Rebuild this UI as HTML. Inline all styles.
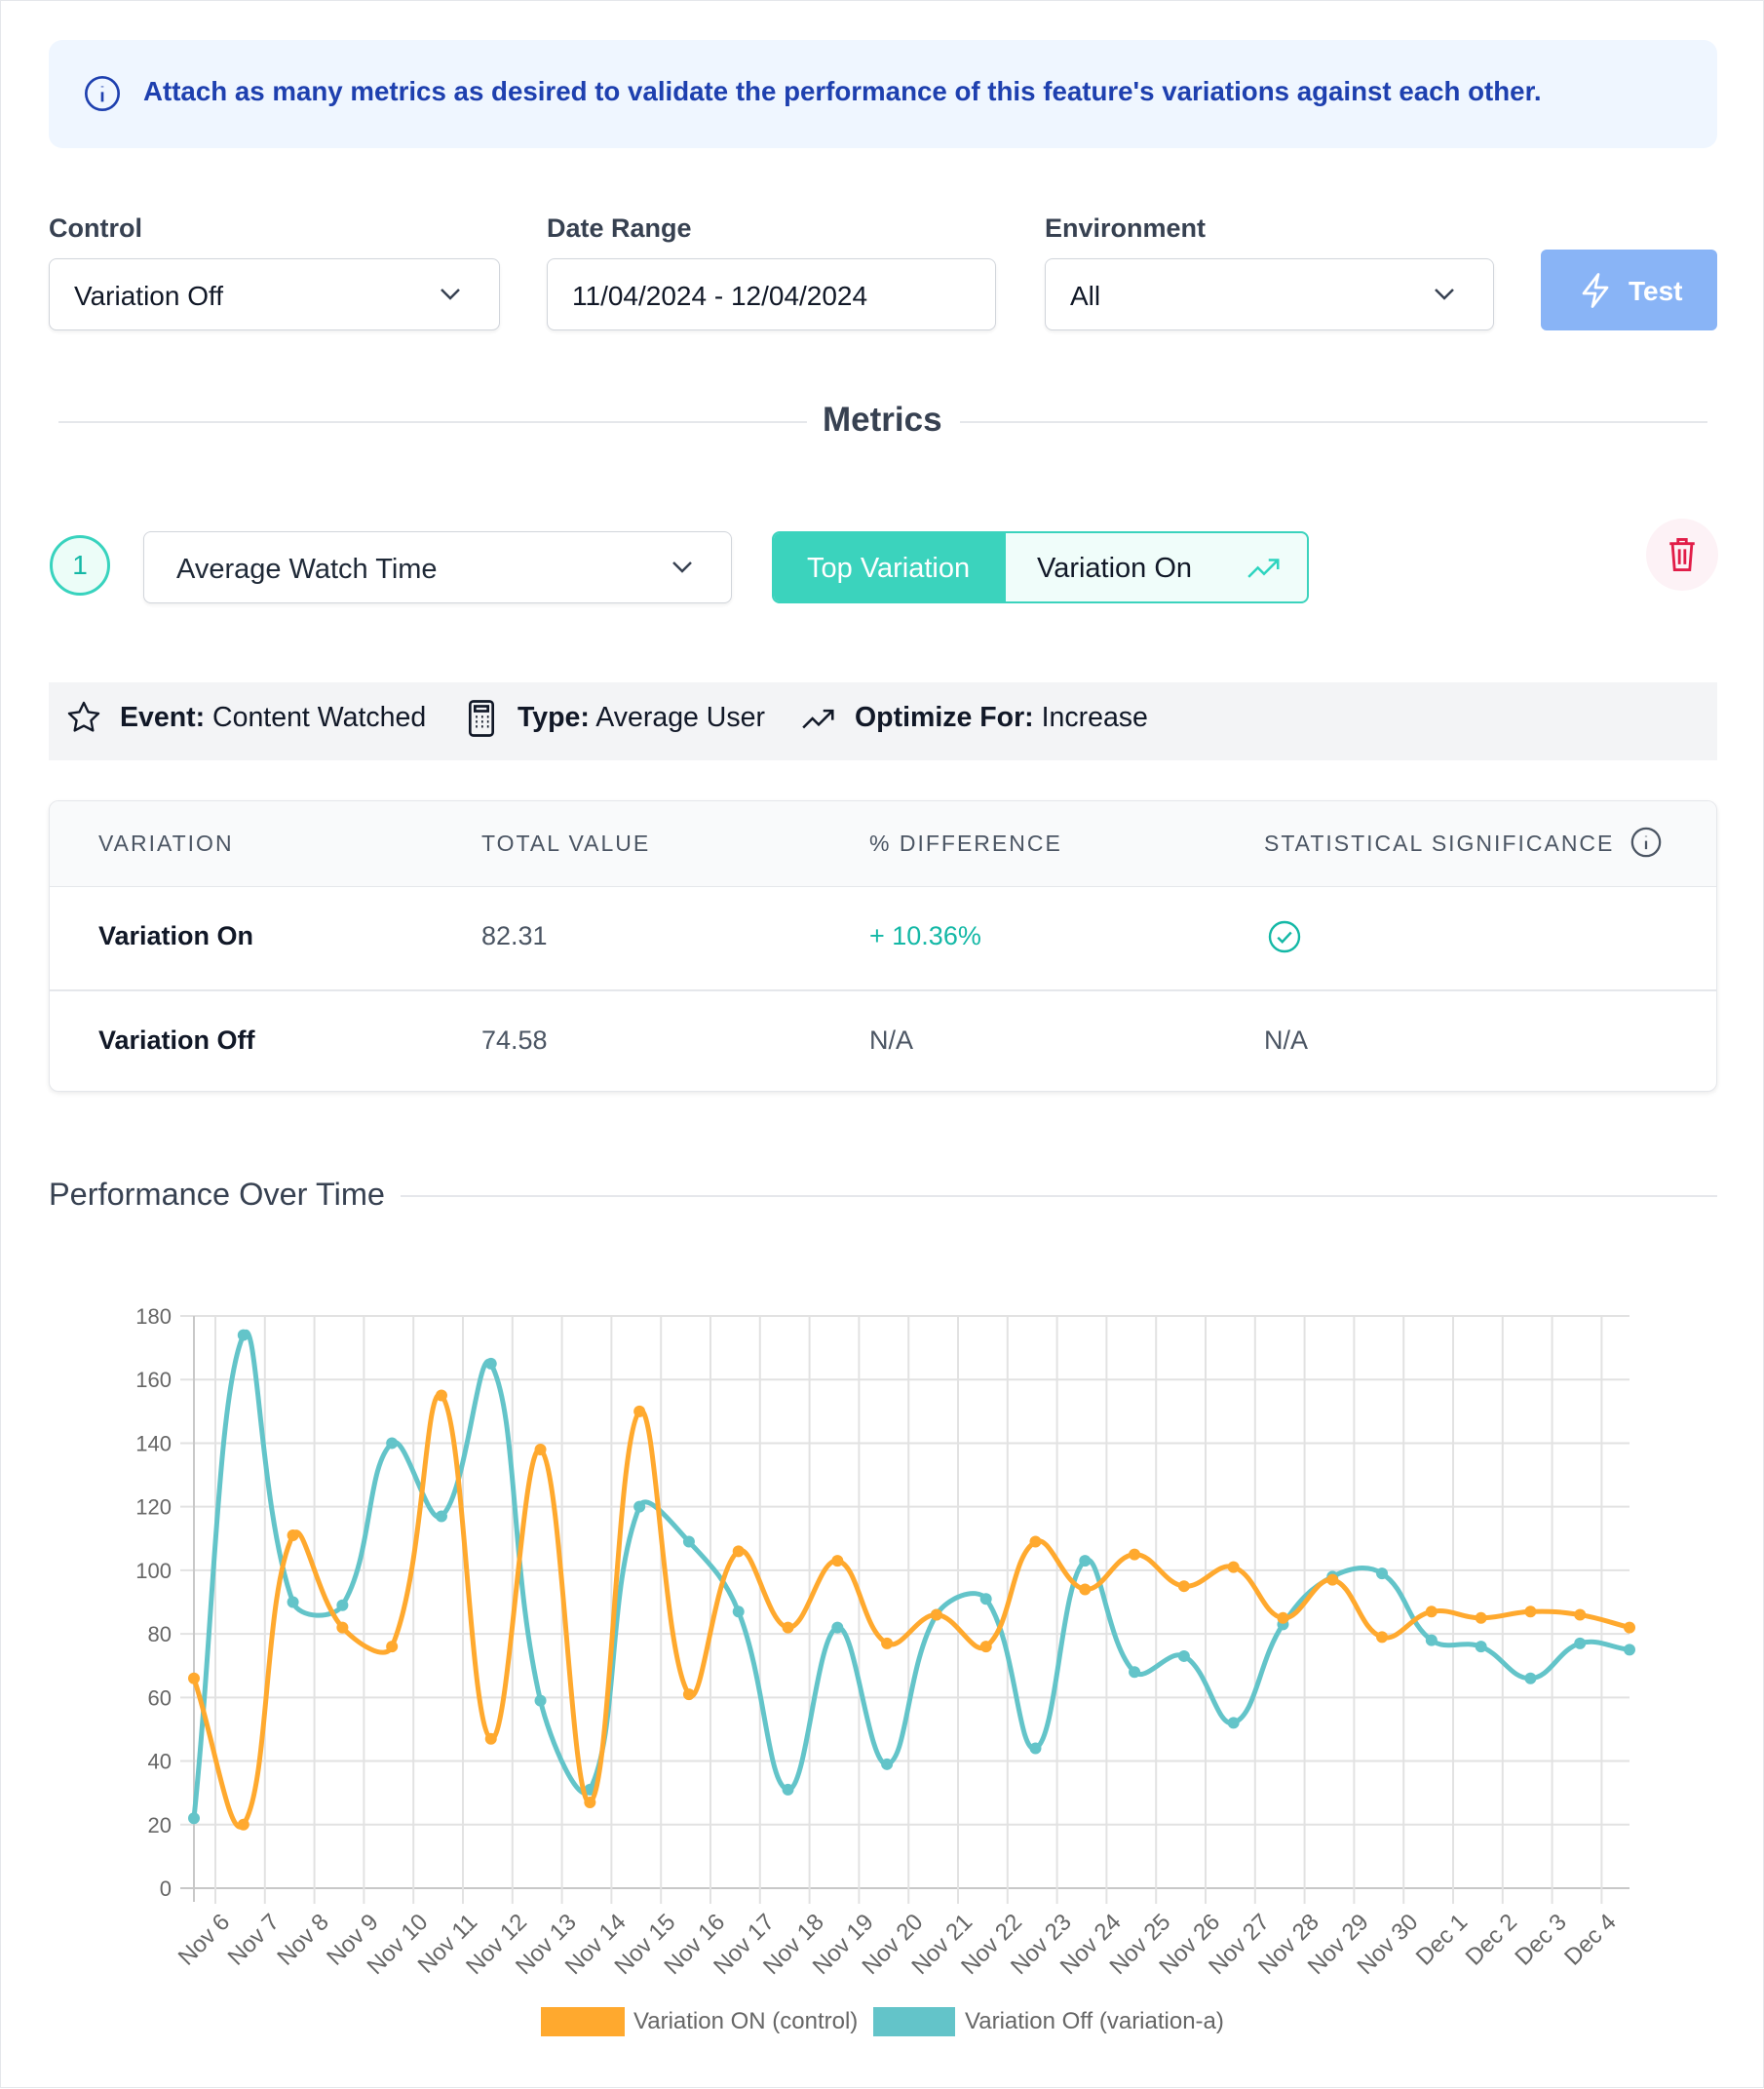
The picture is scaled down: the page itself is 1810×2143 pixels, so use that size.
<!DOCTYPE html>
<html><head><meta charset="utf-8">
<style>
*{box-sizing:border-box;margin:0;padding:0}
body{width:1810px;height:2142px;position:relative;background:#fff;font-family:"Liberation Sans",sans-serif;overflow:hidden;border:1px solid #e5e7eb}
.a{position:absolute}
.banner{left:49px;top:40px;width:1712px;height:111px;background:#eff6ff;border-radius:14px}
.btext{left:146px;top:77px;font-size:27.7px;color:#1e40af;font-weight:bold;white-space:nowrap}
.lbl{font-size:27px;color:#374151;font-weight:bold;top:218px}
.inp{top:264px;height:74px;border:1.5px solid #d1d5db;border-radius:8px;background:#fff;box-shadow:0 2px 3px rgba(0,0,0,0.06);font-size:28px;color:#111827;padding:22px 25px 0;white-space:nowrap}
.chev{position:absolute;right:38px;top:28px}
.btn{left:1580px;top:255px;width:181px;height:83px;background:#89b4f6;border-radius:6px;color:#fff;font-size:28px;font-weight:bold;padding:27px 0 0 90px}
.hl{height:1.5px;background:#e5e7eb}
.bar{left:49px;top:699px;width:1712px;height:80px;background:#f3f4f6}
.bt{top:719px;font-size:28.5px;color:#111827;white-space:nowrap}
.tbl{left:49px;top:820px;width:1712px;height:299px;border:1.5px solid #e5e7eb;border-radius:10px;box-shadow:0 2px 5px rgba(0,0,0,0.08);overflow:hidden;background:#fff}
.th{font-size:23px;color:#4b5563;letter-spacing:2px;top:851px;white-space:nowrap}
.td{font-size:27px;white-space:nowrap}
</style></head><body>
<div class="a banner"></div>
<svg class="a" style="left:84px;top:75px" width="40" height="40" viewBox="0 0 24 24" fill="none" stroke="#1e40af" stroke-width="1.6"><circle cx="12" cy="12" r="10"/><path d="M12 11v6M12 7.5v.5"/></svg>
<div class="a btext">Attach as many metrics as desired to validate the performance of this feature's variations against each other.</div>

<div class="a lbl" style="left:49px">Control</div>
<div class="a lbl" style="left:560px">Date Range</div>
<div class="a lbl" style="left:1071px">Environment</div>
<div class="a inp" style="left:49px;width:463px">Variation Off<svg class="chev" width="24" height="16" viewBox="0 0 24 16"><path d="M3 3l9 9 9-9" fill="none" stroke="#374151" stroke-width="2.5"/></svg></div>
<div class="a inp" style="left:560px;width:461px">11/04/2024 - 12/04/2024</div>
<div class="a inp" style="left:1071px;width:461px">All<svg class="chev" width="24" height="16" viewBox="0 0 24 16"><path d="M3 3l9 9 9-9" fill="none" stroke="#374151" stroke-width="2.5"/></svg></div>
<div class="a btn">Test</div>
<svg class="a" style="left:1618px;top:277px" width="36" height="40" viewBox="0 0 24 26" fill="none" stroke="#fff" stroke-width="1.8" stroke-linejoin="round"><path d="M14 2L4 15h8l-2 9 10-13h-8z"/></svg>

<div class="a hl" style="left:59px;top:431px;width:768px"></div>
<div class="a hl" style="left:984px;top:431px;width:767px"></div>
<div class="a" style="left:843px;top:410px;font-size:35px;color:#374151;font-weight:bold">Metrics</div>

<div class="a" style="left:50px;top:548px;width:62px;height:62px;border-radius:50%;border:3px solid #38d3be;background:#ecfdf8;color:#14b8a6;font-size:28px;text-align:center;line-height:56px">1</div>
<div class="a inp" style="left:146px;top:544px;width:604px;height:74px;padding-left:33px;font-size:29px;color:#1f2937">Average Watch Time<svg class="chev" width="24" height="16" viewBox="0 0 24 16"><path d="M3 3l9 9 9-9" fill="none" stroke="#374151" stroke-width="2.5"/></svg></div>
<div class="a" style="left:791px;top:544px;width:551px;height:74px;border:2px solid #3bd3bd;border-radius:8px;background:#f0fdfa;overflow:hidden">
 <div class="a" style="left:0;top:0;width:238px;height:74px;background:#3bd3bd;color:#fff;font-size:29px;padding:20px 0 0 34px">Top Variation</div>
 <div class="a" style="left:270px;top:20px;font-size:29px;color:#111827">Variation On</div>
 <svg class="a" style="left:484px;top:24px" width="38" height="26" viewBox="0 0 24 16" fill="none" stroke="#2dd4bf" stroke-width="1.6"><path d="M2 13l6-6 4 4 9-9M15 2h6v6"/></svg>
</div>
<div class="a" style="left:1688px;top:531px;width:74px;height:74px;border-radius:50%;background:#fdf2f6"></div>
<svg class="a" style="left:1708px;top:548px" width="34" height="40" viewBox="0 0 24 28" fill="none" stroke="#e11d48" stroke-width="2"><path d="M3 6h18M9 6V3h6v3M5 6l1.5 19h11L19 6M10 10v11M14 10v11"/></svg>

<div class="a bar"></div>
<svg class="a" style="left:66px;top:716px" width="38" height="38" viewBox="0 0 24 24" fill="none" stroke="#111827" stroke-width="1.5" stroke-linejoin="round"><path d="M12 2.5l2.9 6 6.6.9-4.8 4.6 1.2 6.5L12 17.4l-5.9 3.1 1.2-6.5L2.5 9.4l6.6-.9z"/></svg>
<div class="a bt" style="left:122px"><b>Event:</b> Content Watched</div>
<svg class="a" style="left:478px;top:716px" width="30" height="40" viewBox="0 0 18 24" fill="none" stroke="#111827" stroke-width="1.6"><rect x="2" y="1.5" width="14" height="21" rx="2"/><rect x="5" y="4.5" width="8" height="3"/><path d="M5.5 11h1M9 11h1M12.5 11h1M5.5 14h1M9 14h1M12.5 14h1M5.5 17h1M9 17h1M12.5 17h1" stroke-width="1.4"/></svg>
<div class="a bt" style="left:530px"><b>Type:</b> Average User</div>
<svg class="a" style="left:820px;top:722px" width="38" height="28" viewBox="0 0 24 16" fill="none" stroke="#111827" stroke-width="1.6"><path d="M2 14l6-6 4 4 9-9M15 3h6v6"/></svg>
<div class="a bt" style="left:876px"><b>Optimize For:</b> Increase</div>

<div class="a tbl"><div class="a" style="left:0;top:0;width:1712px;height:88px;background:#f9fafb;border-bottom:1.5px solid #e5e7eb"></div><div class="a" style="left:0;top:193px;width:1712px;height:1.5px;background:#e5e7eb"></div></div>
<div class="a th" style="left:100px">VARIATION</div>
<div class="a th" style="left:493px">TOTAL VALUE</div>
<div class="a th" style="left:891px">% DIFFERENCE</div>
<div class="a th" style="left:1296px">STATISTICAL SIGNIFICANCE</div>
<svg class="a" style="left:1671px;top:846px" width="34" height="34" viewBox="0 0 24 24" fill="none" stroke="#4b5563" stroke-width="1.6"><circle cx="12" cy="12" r="10"/><path d="M12 11v6M12 7.5v.5"/></svg>
<div class="a td" style="left:100px;top:944px;font-weight:bold;color:#111827">Variation On</div>
<div class="a td" style="left:493px;top:944px;color:#4b5563">82.31</div>
<div class="a td" style="left:891px;top:944px;color:#14b8a6">+ 10.36%</div>
<svg class="a" style="left:1299px;top:942px" width="36" height="36" viewBox="0 0 24 24" fill="none" stroke="#14b8a6" stroke-width="1.6"><circle cx="12" cy="12" r="10"/><path d="M7.5 12.5l3 3 6-6.5"/></svg>
<div class="a td" style="left:100px;top:1051px;font-weight:bold;color:#111827">Variation Off</div>
<div class="a td" style="left:493px;top:1051px;color:#4b5563">74.58</div>
<div class="a td" style="left:891px;top:1051px;color:#4b5563">N/A</div>
<div class="a td" style="left:1296px;top:1051px;color:#4b5563">N/A</div>

<div class="a" style="left:49px;top:1206px;font-size:32.5px;color:#374151">Performance Over Time</div>
<div class="a hl" style="left:410px;top:1225px;width:1351px"></div>

<svg id="ch" class="a" style="left:0;top:0" width="1810" height="2142" font-family="Liberation Sans, sans-serif"></svg>
<div class="a" style="left:554px;top:2058px;width:86px;height:30px;background:#ffa92e"></div>
<div class="a" style="left:649px;top:2059px;font-size:24px;color:#666">Variation ON (control)</div>
<div class="a" style="left:895px;top:2058px;width:84px;height:30px;background:#63c4c9"></div>
<div class="a" style="left:989px;top:2059px;font-size:24px;color:#666">Variation Off (variation-a)</div>

<script>
(function(){
var o=[66,20,111,82,76,155,47,138,27,150,61,106,82,103,77,86,76,109,94,105,95,101,85,97,79,87,85,87,86,82];
var t=[22,174,90,89,140,117,165,59,31,120,109,87,31,82,39,86,91,44,103,68,73,52,83,98,99,78,76,66,77,75];
var x0=198,dx=(1671-198)/29,yb=1936,yt=1349;
function Y(v){return yb-(yb-yt)*v/180;}
var s='';
for(var v=0;v<=180;v+=20){var y=Y(v);s+='<line x1="184" x2="1671" y1="'+y+'" y2="'+y+'" stroke="'+(v==0?'#c8c8c8':'#e2e2e2')+'" stroke-width="2"/>';
s+='<text x="175" y="'+(y+8)+'" text-anchor="end" font-size="22" fill="#666">'+v+'</text>';}
s+='<line x1="198" x2="198" y1="1349" y2="1950" stroke="#c8c8c8" stroke-width="2"/>';
var lab=[];for(var d=6;d<=30;d++)lab.push('Nov '+d);for(d=1;d<=4;d++)lab.push('Dec '+d);
for(var k=0;k<29;k++){var gx=220+k*50.8;s+='<line x1="'+gx+'" x2="'+gx+'" y1="1349" y2="1952" stroke="#e2e2e2" stroke-width="2"/>';
s+='<text transform="translate('+(gx+16)+',1972) rotate(-45)" text-anchor="end" font-size="24" fill="#666">'+lab[k]+'</text>';}
function path(d){var p=d.map(function(v,i){return[x0+i*dx,Y(v)]});var T=0.4,str='M'+p[0][0]+','+p[0][1];
var cp=[];for(var i=0;i<p.length;i++){var pr=p[i-1]||p[i],c=p[i],nx=p[i+1]||p[i];
var d01=Math.hypot(c[0]-pr[0],c[1]-pr[1]),d12=Math.hypot(nx[0]-c[0],nx[1]-c[1]);var s01=d01/(d01+d12)||0,s12=d12/(d01+d12)||0;
cp.push({p:[c[0]-T*s01*(nx[0]-pr[0]),c[1]-T*s01*(nx[1]-pr[1])],n:[c[0]+T*s12*(nx[0]-pr[0]),c[1]+T*s12*(nx[1]-pr[1])]});}
for(i=1;i<p.length;i++){str+=' C'+cp[i-1].n[0]+','+cp[i-1].n[1]+' '+cp[i].p[0]+','+cp[i].p[1]+' '+p[i][0]+','+p[i][1];}
return{str:str,p:p};}
[[t,'#63c4c9'],[o,'#ffa92e']].forEach(function(a){var r=path(a[0]);s+='<path d="'+r.str+'" fill="none" stroke="'+a[1]+'" stroke-width="5"/>';
r.p.forEach(function(q){s+='<circle cx="'+q[0]+'" cy="'+q[1]+'" r="6" fill="'+a[1]+'"/>';});});
document.getElementById('ch').innerHTML=s;
})();
</script>
</body></html>
